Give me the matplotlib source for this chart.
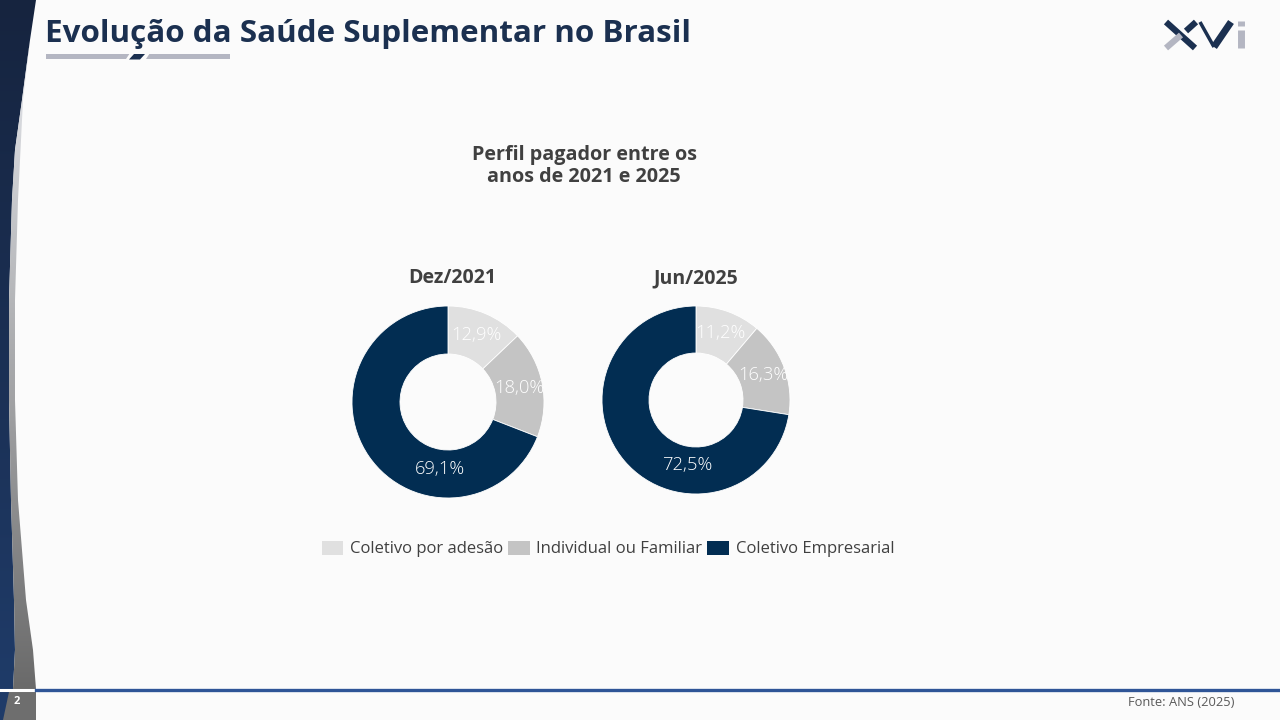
import matplotlib.pyplot as plt
import numpy as np
from matplotlib.patches import Polygon, Patch, Rectangle
from matplotlib.colors import LinearSegmentedColormap

# Data
categories = ["Coletivo por adesão", "Individual ou Familiar", "Coletivo Empresarial"]
periods = ["Dez/2021", "Jun/2025"]
shares = {
    "Dez/2021": [12.9, 18.0, 69.1],
    "Jun/2025": [11.2, 16.3, 72.5],
}
colors = ["#E0E0E0", "#C4C4C4", "#022D52"]

NAVY = "#1B3050"
TXT = "#404040"
FONT = "Open Sans"

fig = plt.figure(figsize=(12.8, 7.2), dpi=100)
fig.patch.set_facecolor("#FBFBFB")

# background / decoration axes in pixel coords
bg = fig.add_axes([0, 0, 1, 1])
bg.set_xlim(0, 1280)
bg.set_ylim(720, 0)
bg.axis("off")


def grad_fill(ax, pts, c_top, c_bot, y0, y1):
    cmap = LinearSegmentedColormap.from_list("g", [c_top, c_bot])
    img = np.linspace(0, 1, 256).reshape(-1, 1)
    im = ax.imshow(img, cmap=cmap, extent=[0, 40, y1, y0], aspect="auto", zorder=2)
    poly = Polygon(pts, closed=True, facecolor="none", edgecolor="none")
    ax.add_patch(poly)
    im.set_clip_path(poly)


navy_edge = [(36, 0), (30, 40), (22, 100), (15, 150), (12, 200), (9, 300), (9, 400),
             (11, 500), (14, 600), (15, 650), (13, 689)]
gray_edge = [(30, 40), (23, 100), (18, 200), (15, 300), (15, 400), (18, 500),
             (26, 600), (33, 650), (36, 689)]
grad_fill(bg, [(0, 0)] + navy_edge + [(0, 689)], "#16243F", "#1F3B68", 0, 689)
grad_fill(bg, gray_edge + navy_edge[::-1][:-1], "#E6E8ED", "#6A6A6A", 40, 689)
bg.add_patch(Rectangle((0, 692), 36, 28, facecolor="#6E6E6E", edgecolor="none", zorder=3))
bg.add_patch(Polygon([(0, 692), (9, 692), (3, 720), (0, 720)], facecolor="#1F3B68",
                     edgecolor="none", zorder=4))
bg.plot([0, 36], [690, 690], color="white", lw=2.2, zorder=5)
bg.plot([36, 1280], [690, 690], color="#2F5597", lw=2.4, zorder=5)
bg.text(17, 702, "2", color="white", fontsize=8, fontweight="bold", family=FONT,
        ha="center", va="center", zorder=6)
bg.text(1235, 703, "Fonte: ANS (2025)", color="#595959", fontsize=9.3, family=FONT,
        ha="right", va="center")

# title and underline
bg.text(45, 34, "Evolução da Saúde Suplementar no Brasil", color=NAVY, fontsize=22.6,
        fontweight="bold", family=FONT, ha="left", va="center")
bg.add_patch(Rectangle((46, 54), 184, 4.5, facecolor="#B4B6C2", edgecolor="none"))
bg.add_patch(Polygon([(130, 53), (150, 53), (146, 59), (126, 59)], facecolor="#FBFBFB",
                     edgecolor="none"))
bg.add_patch(Polygon([(134, 54), (145, 54), (140, 59.5), (129, 59.5)], facecolor=NAVY,
                     edgecolor="none"))

# logo
bg.plot([1166, 1195], [22, 48], color=NAVY, lw=4.5, solid_capstyle="butt")
bg.plot([1166, 1181], [48, 35], color="#B4B6C2", lw=4.5, solid_capstyle="butt")
bg.plot([1186, 1196], [31, 22], color=NAVY, lw=4.5, solid_capstyle="butt")
bg.plot([1200, 1214], [22, 47], color=NAVY, lw=2.5, solid_capstyle="butt")
bg.plot([1214, 1231], [47, 22], color=NAVY, lw=5, solid_capstyle="butt")
bg.plot([1241, 1241], [30, 48], color="#B4B6C2", lw=5, solid_capstyle="butt")
bg.plot([1241, 1241], [21, 26], color="#B4B6C2", lw=5, solid_capstyle="butt")

# chart titles
bg.text(584, 166, "Perfil pagador entre os\nanos de 2021 e 2025", color=TXT, fontsize=14.2,
        fontweight="bold", family=FONT, ha="center", va="center", linespacing=1.1)

# donuts
centers = [(448, 402, 96), (696, 400, 94)]
big_label = (-97, 0.70)
for period, (cx, cy, r) in zip(periods, centers):
    ax = fig.add_axes([(cx - r) / 1280, (720 - cy - r) / 720, 2 * r / 1280, 2 * r / 720])
    vals = shares[period]
    ax.pie(vals, colors=colors, startangle=90, counterclock=False, radius=1,
           wedgeprops=dict(width=0.5, edgecolor="white", linewidth=0.6))
    ax.set_xlim(-1, 1)
    ax.set_ylim(-1, 1)
    ax.set_aspect("auto")
    start = 90
    for i, v in enumerate(vals):
        mid = start - v * 3.6 / 2
        rr = 0.76
        if i == len(vals) - 1:
            mid, rr = big_label
        ax.text(rr * np.cos(np.radians(mid)), rr * np.sin(np.radians(mid)),
                f"{v:.1f}%".replace(".", ","), color="white", fontsize=13.2,
                fontweight="light", family=FONT, ha="center", va="center")
        start -= v * 3.6
    bg.text(cx + (4 if period == "Dez/2021" else 0), 278, period, color=TXT, fontsize=14,
            fontweight="bold", family=FONT, ha="center", va="center")

handles = [Patch(facecolor=c, edgecolor="none") for c in colors]
fig.legend(handles, categories, loc="center", bbox_to_anchor=(608 / 1280, 1 - 549 / 720),
           ncol=3, frameon=False, prop=dict(family=FONT, size=12), labelcolor=TXT,
           handlelength=1.3, handleheight=0.9, handletextpad=0.4, columnspacing=0.3)

fig.savefig("out.png", dpi=100, facecolor=fig.get_facecolor())
